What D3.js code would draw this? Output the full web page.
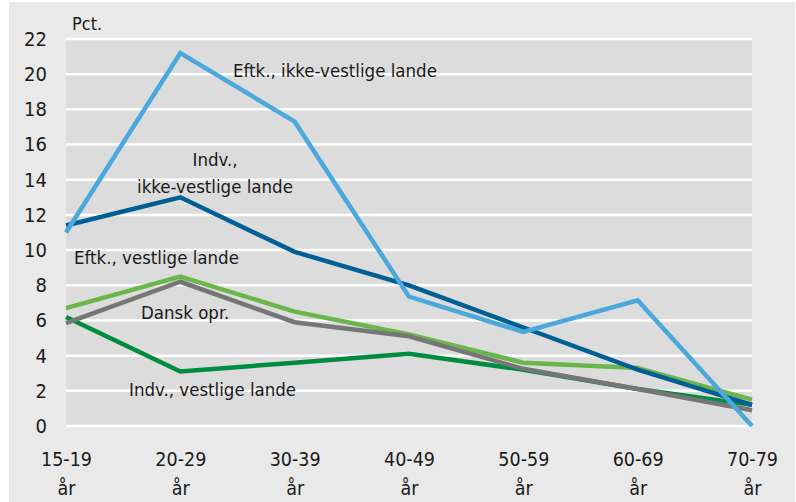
<!DOCTYPE html>
<html>
<head>
<meta charset="utf-8">
<script src="https://cdn.jsdelivr.net/npm/d3@7/dist/d3.min.js"></script>
<style>
  html, body { margin: 0; padding: 0; background: #ffffff; }
  svg { display: block; }
  text { font-family: "Liberation Sans Narrow", "DejaVu Sans Condensed", "Roboto Condensed", sans-serif; fill: #1a1a1a; }
</style>
</head>
<body>
<svg id="chart" width="796" height="502"></svg>
<script>
const categories = ["15-19", "20-29", "30-39", "40-49", "50-59", "60-69", "70-79"];
const categorySuffix = "år";
const yTicks = [0, 2, 4, 6, 8, 10, 12, 14, 16, 18, 20, 22];
const yUnit = "Pct.";

const indvVestlige      = [6.2, 3.1, 3.6, 4.1, 3.2, 2.1, 1.2];
const eftkVestlige      = [6.7, 8.5, 6.5, 5.2, 3.6, 3.3, 1.5];
const danskOpr          = [5.85, 8.2, 5.9, 5.1, 3.25, 2.1, 0.9];
const indvIkkeVestlige  = [11.4, 13.0, 9.9, 8.0, 5.6, 3.2, 1.2];
const eftkIkkeVestlige  = [11.0, 21.2, 17.3, 7.35, 5.35, 7.15, 0.0];

const seriesNames = ["Indv., vestlige lande", "Eftk., vestlige lande", "Dansk opr.", "Indv., ikke-vestlige lande", "Eftk., ikke-vestlige lande"];
const seriesValues = [indvVestlige, eftkVestlige, danskOpr, indvIkkeVestlige, eftkIkkeVestlige];
const seriesColors = ["#008c3e", "#6bb64a", "#767676", "#005f95", "#4aa8dd"];

const svg = d3.select("#chart");
const W = 796, H = 502;
const m = { left: 66, right: 44, top: 39, bottom: 76 };

// outer background
svg.append("rect").attr("x", 9).attr("y", 2).attr("width", 786).attr("height", 500).attr("fill", "#e9e9e9");

const x = d3.scalePoint().domain(categories).range([m.left, W - m.right]).padding(0);
const y = d3.scaleLinear().domain([0, 22]).range([H - m.bottom, m.top]);

// plot background
svg.append("rect")
  .attr("x", m.left).attr("y", y(22))
  .attr("width", (W - m.right) - m.left).attr("height", y(0) - y(22))
  .attr("fill", "#dcdcdc");

// gridlines
svg.append("g").selectAll("line").data(yTicks).join("line")
  .attr("x1", m.left).attr("x2", W - m.right)
  .attr("y1", d => y(d)).attr("y2", d => y(d))
  .attr("stroke", "#ffffff").attr("stroke-width", 2.5);

// y axis
const yAxis = d3.axisLeft(y).tickValues(yTicks).tickSize(0).tickPadding(19);
const gy = svg.append("g").attr("transform", `translate(${m.left},0)`).call(yAxis);
gy.select(".domain").remove();
gy.selectAll("text").style("font-size", "20px").attr("fill", "#1a1a1a")
  .style("font-family", '"Liberation Sans Narrow", "DejaVu Sans Condensed", sans-serif');

svg.append("text").attr("x", 72).attr("y", 30).style("font-size", "18px").text(yUnit);

// x axis
const xAxis = d3.axisBottom(x).tickSize(0).tickPadding(0).tickFormat(() => "");
const gx = svg.append("g").attr("transform", `translate(0,${y(0)})`).call(xAxis);
gx.select(".domain").remove();
gx.selectAll(".tick").each(function(d) {
  const t = d3.select(this);
  t.append("text").attr("text-anchor", "middle").attr("y", 40).style("font-size", "19.5px").attr("fill", "#1a1a1a").text(d);
  t.append("text").attr("text-anchor", "middle").attr("y", 69).style("font-size", "19.5px").attr("fill", "#1a1a1a").text(categorySuffix);
});

// lines
const line = d3.line().x((d, i) => x(categories[i])).y(d => y(d));
svg.append("g").selectAll("path").data(seriesValues).join("path")
  .attr("d", d => line(d))
  .attr("fill", "none")
  .attr("stroke", (d, i) => seriesColors[i])
  .attr("stroke-width", 4.5)
  .attr("stroke-linejoin", "miter");

// labels
const labels = [
  { lines: ["Eftk., ikke-vestlige lande"], x: 233, y: 77, anchor: "start" },
  { lines: ["Indv.,", "ikke-vestlige lande"], x: 215, y: 166, anchor: "middle" },
  { lines: ["Eftk., vestlige lande"], x: 74, y: 264, anchor: "start" },
  { lines: ["Dansk opr."], x: 141, y: 319, anchor: "start" },
  { lines: ["Indv., vestlige lande"], x: 129, y: 396, anchor: "start" }
];
labels.forEach(l => {
  const t = svg.append("text").attr("text-anchor", l.anchor).style("font-size", "18.5px");
  l.lines.forEach((s, i) => {
    t.append("tspan").attr("x", l.x).attr("y", l.y + i * 27).text(s);
  });
});
</script>
</body>
</html>
